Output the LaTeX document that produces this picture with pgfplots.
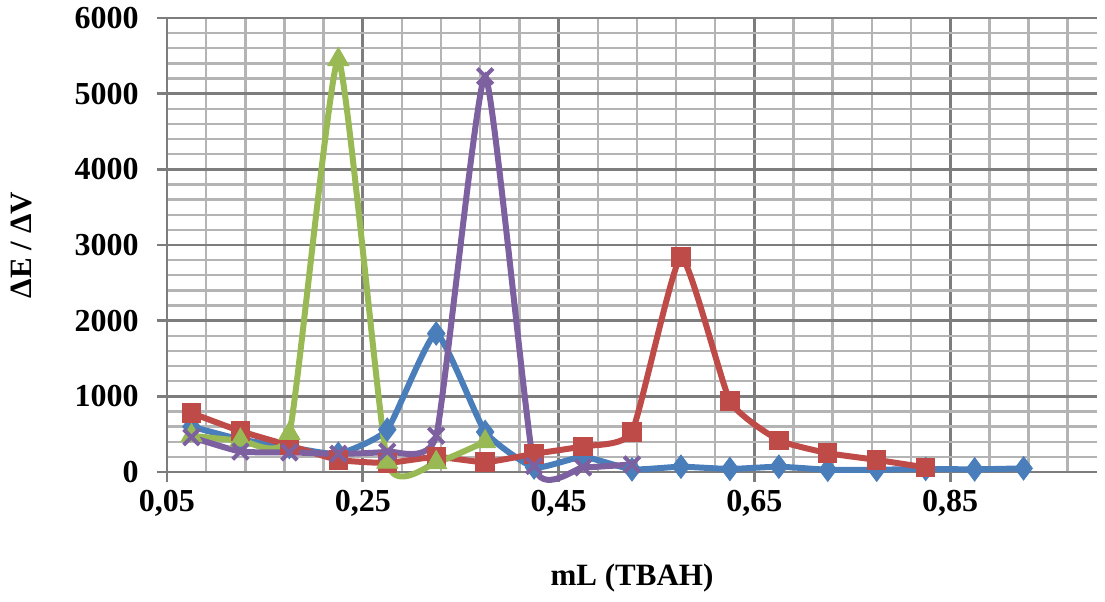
\documentclass[border=0pt]{standalone}
\usepackage{pgfplots}
\pgfplotsset{compat=1.18}
\usepackage{fontspec}
\setmainfont{Liberation Serif}
\definecolor{sblue}{RGB}{74,126,187}
\definecolor{sred}{RGB}{190,75,72}
\definecolor{sgreen}{RGB}{152,185,84}
\definecolor{spurple}{RGB}{125,96,160}
\definecolor{gmaj}{RGB}{125,125,125}
\definecolor{gmin}{RGB}{180,180,180}
\begin{document}
\begin{tikzpicture}
\path[use as bounding box] (0,0) rectangle (552.5pt,300.5pt);
\begin{axis}[
  at={(83.5pt,64.5pt)}, anchor=south west,
  scale only axis, width=465pt, height=227pt,
  xmin=0.05, xmax=1.0, ymin=0, ymax=6000,
  axis x line=bottom, axis y line=left,
  axis line style={gmaj, line width=1.4pt, -},
  xtick={0.05,0.25,0.45,0.65,0.85},
  xticklabels={{0,05},{0,25},{0,45},{0,65},{0,85}},
  minor xtick={0.09,0.13,0.17,0.21,0.29,0.33,0.37,0.41,0.49,0.53,0.57,0.61,0.69,0.73,0.77,0.81,0.89,0.93,0.97},
  ytick={0,1000,2000,3000,4000,5000,6000},
  minor ytick={200,400,600,800,1200,1400,1600,1800,2200,2400,2600,2800,3200,3400,3600,3800,4200,4400,4600,4800,5200,5400,5600,5800},
  scaled y ticks=false,
  yticklabel={\pgfmathprintnumber[fixed,precision=0,1000 sep={}]{\tick}},
  /pgf/number format/assume math mode=true,
  grid=both,
  major grid style={gmaj, line width=1.4pt},
  minor grid style={gmin, line width=1.2pt},
  tick align=outside, major tick length=5pt, minor tick length=0pt,
  tick style={gmaj, line width=1.4pt},
  tick label style={font=\bfseries\fontsize{16}{18}\selectfont, black},
  yticklabel style={inner sep=0pt, xshift=-9pt},
  xticklabel style={inner sep=0pt, yshift=-4pt},
  xlabel={mL (TBAH)}, ylabel={ΔE / ΔV},
  label style={font=\bfseries\fontsize{15.5}{18}\selectfont},
  xlabel style={at={(axis description cs:0.5,-0.2335)}, anchor=center},
  ylabel style={at={(axis description cs:-0.156,0.5)}, anchor=center},
  every axis plot/.append style={line width=3pt, smooth, tension=0.28},
  clip=false,
]
\addplot[sblue, mark=diamond*, mark size=5.8pt, mark options={solid, line width=0.5pt}] coordinates {
(0.075,600) (0.125,430) (0.175,330) (0.225,240) (0.275,560) (0.325,1830) (0.375,530) (0.425,60) (0.475,200) (0.525,35) (0.575,70) (0.625,40) (0.675,70) (0.725,30) (0.775,30) (0.825,40) (0.875,35) (0.925,48)};
\addplot[sred, mark=square*, mark size=4.6pt, mark options={solid, line width=0.5pt}] coordinates {
(0.075,780) (0.125,540) (0.175,350) (0.225,160) (0.275,120) (0.325,200) (0.375,130) (0.425,240) (0.475,340) (0.525,530) (0.575,2840) (0.625,940) (0.675,420) (0.725,250) (0.775,160) (0.825,60)};
\addplot[sgreen, mark=triangle*, mark size=6pt, mark options={solid, line width=0.5pt}] coordinates {
(0.075,480) (0.125,420) (0.175,510) (0.225,5450) (0.275,130) (0.325,125) (0.375,400)};
\addplot[spurple, mark=x, mark size=5.5pt, mark options={solid, line width=2pt}] coordinates {
(0.075,460) (0.125,270) (0.175,260) (0.225,240) (0.275,270) (0.325,480) (0.375,5230) (0.425,80) (0.475,60) (0.525,100)};
\end{axis}
\end{tikzpicture}
\end{document}
